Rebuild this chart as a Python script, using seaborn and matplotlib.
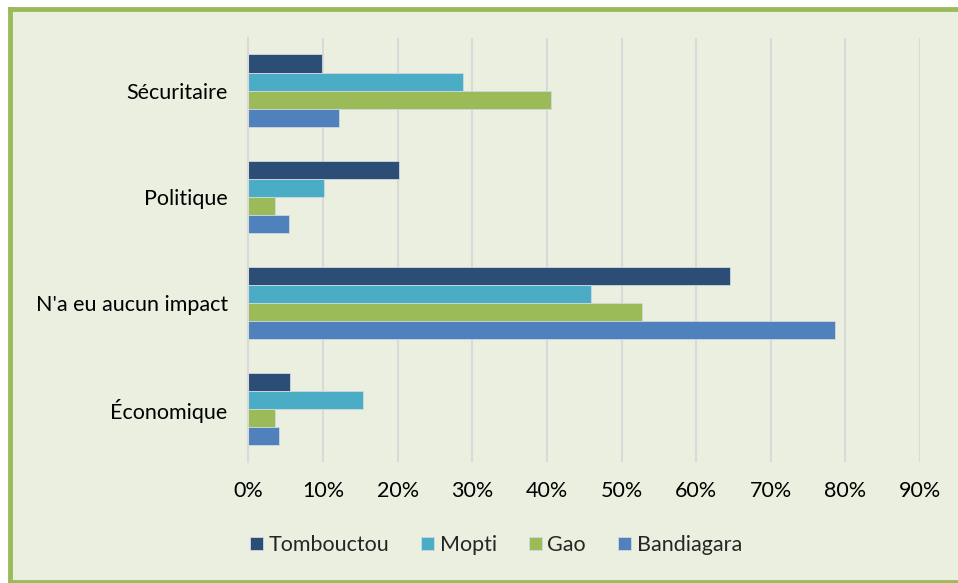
import matplotlib
matplotlib.use("Agg")
import matplotlib.pyplot as plt
import seaborn as sns
import pandas as pd
from matplotlib.patches import Rectangle
from matplotlib.lines import Line2D
from matplotlib.ticker import FuncFormatter, MultipleLocator

categories = ["Sécuritaire", "Politique", "N'a eu aucun impact", "Économique"]
cities = ["Tombouctou", "Mopti", "Gao", "Bandiagara"]
tombouctou = [9.8, 20.2, 64.6, 5.6]
mopti = [28.8, 10.1, 45.9, 15.3]
gao = [40.5, 3.5, 52.7, 3.6]
bandiagara = [12.1, 5.4, 78.6, 4.1]
colors = ["#2C4D75", "#4BACC6", "#9BBB59", "#4F81BD"]

rows = []
for city, vals in zip(cities, [tombouctou, mopti, gao, bandiagara]):
    for cat, v in zip(categories, vals):
        rows.append({"cat": cat, "city": city, "val": v / 100})
df = pd.DataFrame(rows)

sns.set_theme(style="white")
plt.rcParams["font.family"] = ["Lato", "DejaVu Sans"]

bg = "#EBEFDF"
W, H = 958, 583
fig = plt.figure(figsize=(9.58, 5.83), dpi=100, facecolor="white")
# panel background and green frame (left, top, bottom)
fig.patches.append(Rectangle((10 / W, 0), 1, 1 - 8 / H, transform=fig.transFigure,
                             facecolor=bg, edgecolor="none", zorder=-2))
green = "#9BBB59"
for xs, ys in [([10 / W, 10 / W], [1.5 / H, 1 - 8.5 / H]),
               ([10 / W, 1], [1 - 8.5 / H, 1 - 8.5 / H]),
               ([10 / W, 1], [1.5 / H, 1.5 / H])]:
    fig.add_artist(Line2D(xs, ys, transform=fig.transFigure, color=green,
                          linewidth=3.5, solid_capstyle="projecting"))

ax = fig.add_axes([248.5 / W, 1 - 462 / H, (920 - 248.5) / W, (462 - 37.5) / H])
ax.set_facecolor(bg)
sns.barplot(data=df, y="cat", x="val", hue="city", order=categories, hue_order=cities,
            palette=colors, orient="h", width=0.68, ax=ax, edgecolor="#D0D8E0",
            linewidth=0.6, errorbar=None, saturation=1)

ax.set_xlim(0, 0.9)
ax.xaxis.set_major_locator(MultipleLocator(0.1))
ax.xaxis.set_major_formatter(FuncFormatter(lambda v, p: f"{int(round(v * 100))}%"))
ax.grid(axis="x", color="#D9D9D9", linewidth=1.5)
ax.set_axisbelow(True)
for s in ["top", "right", "bottom"]:
    ax.spines[s].set_visible(False)
ax.spines["left"].set_color("#D9D9D9")
ax.spines["left"].set_linewidth(1.5)
ax.set_xlabel("")
ax.set_ylabel("")
ax.tick_params(axis="both", length=0, labelsize=15.5, colors="#000000")
ax.tick_params(axis="x", pad=14)
ax.tick_params(axis="y", pad=15)

handles, labels = ax.get_legend_handles_labels()
ax.legend_.remove()
fig.legend(handles, labels, loc="center", bbox_to_anchor=(496 / W, 1 - 545 / H),
           ncol=4, frameon=False, fontsize=15.5, handlelength=0.6, handleheight=0.6,
           handletextpad=0.25, columnspacing=1.5)

fig.savefig("out.png", dpi=100, facecolor="white")
